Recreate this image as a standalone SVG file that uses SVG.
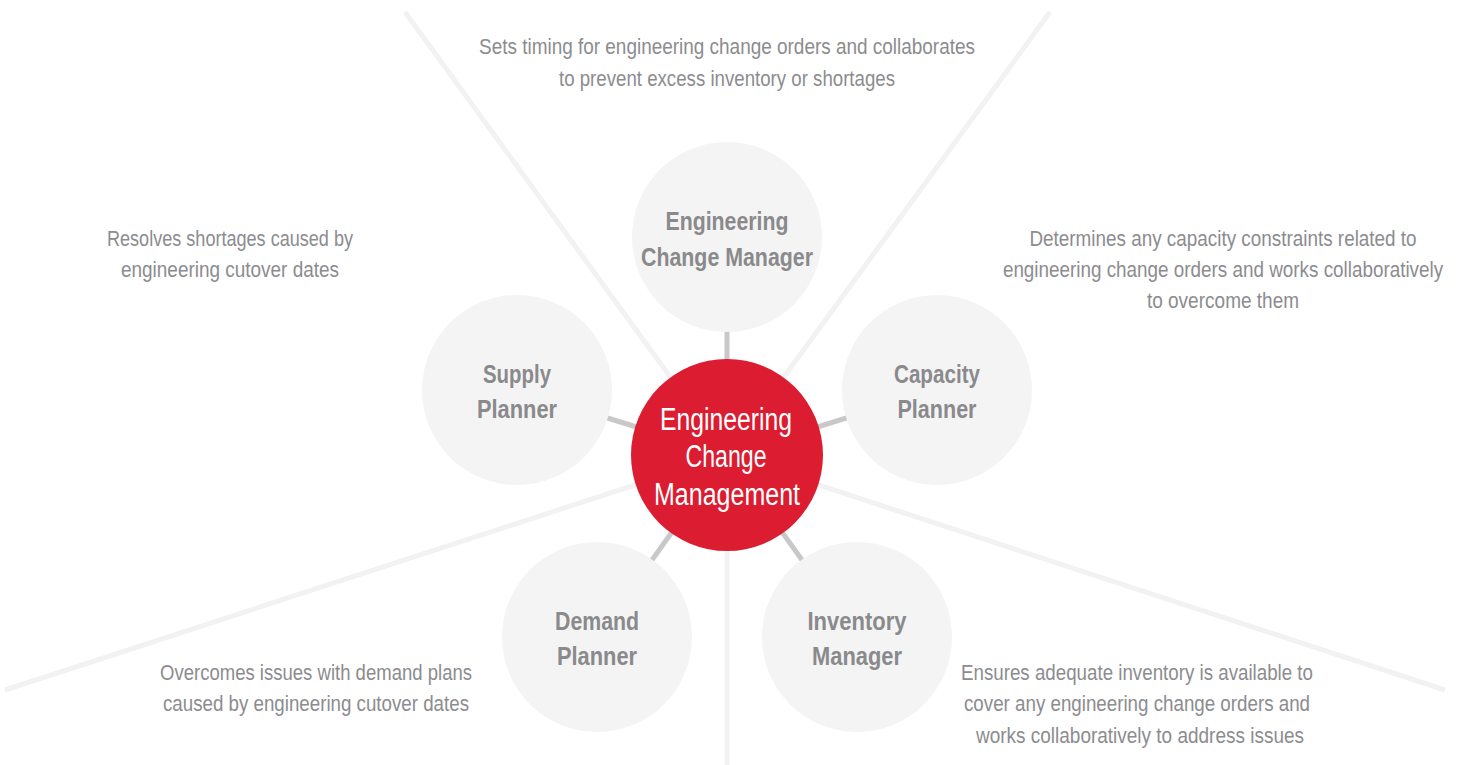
<svg xmlns="http://www.w3.org/2000/svg" width="1464" height="765" viewBox="0 0 1464 765">
<style>
.bg{stroke:#f2f2f2;stroke-width:5;fill:none}
.con{stroke:#c8c8c8;stroke-width:5;fill:none}
.node{fill:#f4f4f4}
.lbl{font-family:"Liberation Sans",Arial,sans-serif;font-weight:bold;font-size:26px;fill:#8a8a8c;text-anchor:middle}
.ctr{font-family:"Liberation Sans",Arial,sans-serif;font-size:31px;fill:#ffffff;text-anchor:middle}
.desc{font-family:"Liberation Sans",Arial,sans-serif;font-size:22px;fill:#8c8c8f;text-anchor:middle}
</style>
<rect width="1464" height="765" fill="#ffffff"/>
<g id="background-lines">
<line class="bg" x1="405" y1="12" x2="727" y2="455"/>
<line class="bg" x1="1050" y1="12" x2="727" y2="455"/>
<line class="bg" x1="5" y1="690" x2="727" y2="455"/>
<line class="bg" x1="1445" y1="690" x2="727" y2="455"/>
<line class="bg" x1="727" y1="765" x2="727" y2="455"/>
</g>
<g id="connectors">
<line class="con" x1="727" y1="455" x2="727" y2="237"/>
<line class="con" x1="727" y1="455" x2="517" y2="390"/>
<line class="con" x1="727" y1="455" x2="937" y2="390"/>
<line class="con" x1="727" y1="455" x2="597" y2="637"/>
<line class="con" x1="727" y1="455" x2="857" y2="637"/>
</g>
<g id="node-ecm">
<circle class="node" cx="727" cy="237" r="95"/>
<text class="lbl" x="727" y="230" textLength="123" lengthAdjust="spacingAndGlyphs">Engineering</text>
<text class="lbl" x="727" y="266" textLength="172" lengthAdjust="spacingAndGlyphs">Change Manager</text>
</g>
<g id="node-supply">
<circle class="node" cx="517" cy="390" r="95"/>
<text class="lbl" x="517" y="383" textLength="68" lengthAdjust="spacingAndGlyphs">Supply</text>
<text class="lbl" x="517" y="418" textLength="80" lengthAdjust="spacingAndGlyphs">Planner</text>
</g>
<g id="node-capacity">
<circle class="node" cx="937" cy="390" r="95"/>
<text class="lbl" x="937" y="383" textLength="86" lengthAdjust="spacingAndGlyphs">Capacity</text>
<text class="lbl" x="937" y="418" textLength="79" lengthAdjust="spacingAndGlyphs">Planner</text>
</g>
<g id="node-demand">
<circle class="node" cx="597" cy="637" r="95"/>
<text class="lbl" x="597" y="630" textLength="84" lengthAdjust="spacingAndGlyphs">Demand</text>
<text class="lbl" x="597" y="665" textLength="80" lengthAdjust="spacingAndGlyphs">Planner</text>
</g>
<g id="node-inventory">
<circle class="node" cx="857" cy="637" r="95"/>
<text class="lbl" x="857" y="630" textLength="99" lengthAdjust="spacingAndGlyphs">Inventory</text>
<text class="lbl" x="857" y="665" textLength="90" lengthAdjust="spacingAndGlyphs">Manager</text>
</g>
<g id="node-center">
<circle cx="727" cy="455" r="96" fill="#dc1c30"/>
<text class="ctr" x="726" y="430" textLength="132" lengthAdjust="spacingAndGlyphs">Engineering</text>
<text class="ctr" x="726" y="467" textLength="81" lengthAdjust="spacingAndGlyphs">Change</text>
<text class="ctr" x="727" y="505" textLength="146" lengthAdjust="spacingAndGlyphs">Management</text>
</g>
<g id="descriptions">
<text class="desc" x="727" y="54" textLength="496" lengthAdjust="spacingAndGlyphs">Sets timing for engineering change orders and collaborates</text>
<text class="desc" x="727" y="86" textLength="336" lengthAdjust="spacingAndGlyphs">to prevent excess inventory or shortages</text>
<text class="desc" x="230" y="246" textLength="246" lengthAdjust="spacingAndGlyphs">Resolves shortages caused by</text>
<text class="desc" x="230" y="277" textLength="218" lengthAdjust="spacingAndGlyphs">engineering cutover dates</text>
<g transform="translate(1223 0) scale(0.87 1)">
<text class="desc" x="0" y="246" textLength="445" lengthAdjust="spacingAndGlyphs">Determines any capacity constraints related to</text>
<text class="desc" x="0" y="277" textLength="506" lengthAdjust="spacingAndGlyphs">engineering change orders and works collaboratively</text>
<text class="desc" x="0" y="308" textLength="175" lengthAdjust="spacingAndGlyphs">to overcome them</text>
</g>
<text class="desc" x="316" y="680" textLength="312" lengthAdjust="spacingAndGlyphs">Overcomes issues with demand plans</text>
<text class="desc" x="316" y="711" textLength="306" lengthAdjust="spacingAndGlyphs">caused by engineering cutover dates</text>
<text class="desc" x="1137" y="680" textLength="352" lengthAdjust="spacingAndGlyphs">Ensures adequate inventory is available to</text>
<text class="desc" x="1137" y="711" textLength="346" lengthAdjust="spacingAndGlyphs">cover any engineering change orders and</text>
<text class="desc" x="1140" y="743" textLength="328" lengthAdjust="spacingAndGlyphs">works collaboratively to address issues</text>
</g>
</svg>
